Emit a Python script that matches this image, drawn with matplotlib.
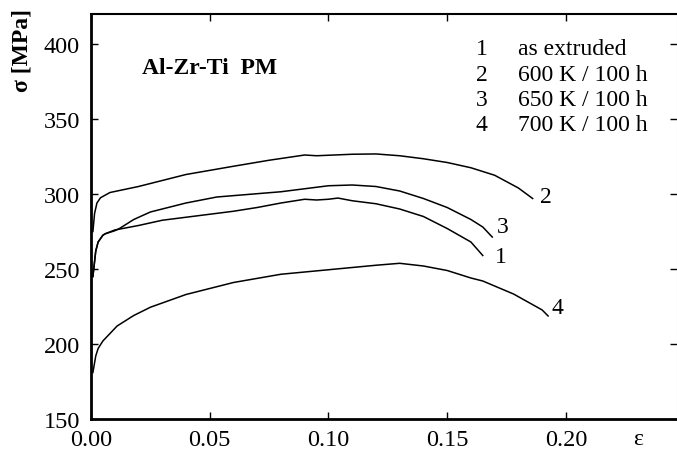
import matplotlib
matplotlib.use("Agg")
import matplotlib.pyplot as plt

# Curve 1: as extruded
eps1 = [0.0008, 0.002, 0.003, 0.005, 0.006, 0.01, 0.02, 0.03, 0.04, 0.05, 0.06, 0.07,
        0.08, 0.09, 0.095, 0.10, 0.104, 0.11, 0.12, 0.13, 0.14, 0.15, 0.16, 0.165]
sig1 = [245, 262, 268, 272.5, 273.5, 276, 279, 282.5, 284.5, 286.5, 288.5, 291,
        294, 296.5, 296, 296.5, 297.3, 295.5, 293.5, 290, 285, 277, 268, 259]

# Curve 2: 600 K / 100 h
eps2 = [0.0008, 0.0015, 0.0025, 0.004, 0.008, 0.02, 0.04, 0.06, 0.075, 0.09, 0.095,
        0.11, 0.12, 0.13, 0.14, 0.15, 0.16, 0.17, 0.18, 0.186]
sig2 = [275, 287, 294, 297.5, 301, 305, 313, 318.5, 322.5, 326, 325.5,
        326.5, 326.7, 325.5, 323.5, 321, 317.5, 312.5, 304, 297]

# Curve 3: 650 K / 100 h
eps3 = [0.0008, 0.002, 0.003, 0.005, 0.006, 0.01, 0.012, 0.018, 0.025, 0.04, 0.053,
        0.08, 0.10, 0.11, 0.12, 0.13, 0.14, 0.15, 0.16, 0.165, 0.169]
sig3 = [245, 262, 268, 272.5, 273.5, 275.5, 277, 283, 288, 294, 298,
        301.5, 305.5, 306, 305, 302, 297, 291, 283, 278, 271.3]

# Curve 4: 700 K / 100 h
eps4 = [0.0008, 0.002, 0.003, 0.005, 0.008, 0.011, 0.018, 0.025, 0.04, 0.06, 0.08, 0.10, 0.12,
        0.13, 0.14, 0.15, 0.16, 0.165, 0.178, 0.19, 0.1925]
sig4 = [181, 192, 197, 202, 207, 212, 219, 224.5, 233, 241, 246.5, 249.5, 252.5,
        253.8, 252, 249, 244, 242, 233.3, 222.7, 218.7]

curve_labels = ["1", "2", "3", "4"]
legend_numbers = ["1", "2", "3", "4"]
legend_texts = ["as extruded", "600 K / 100 h", "650 K / 100 h", "700 K / 100 h"]
xticks = [0.0, 0.05, 0.10, 0.15, 0.20]
xticklabels = ["0.00", "0.05", "0.10", "0.15", "0.20"]
yticks = [150, 200, 250, 300, 350, 400]

plt.rcParams['font.family'] = ['Liberation Serif', 'DejaVu Serif']
FS = 17

fig = plt.figure(figsize=(6.77, 4.56), dpi=100)
ax = fig.add_axes([91/677, 36/456, 586/677, 405/456])

for e, s in [(eps1, sig1), (eps2, sig2), (eps3, sig3), (eps4, sig4)]:
    ax.plot(e, s, color='black', lw=1.1)

ax.set_xlim(0, 0.2468)
ax.set_ylim(150, 420)
ax.set_xticks(xticks)
ax.set_xticklabels(xticklabels)
ax.set_yticks(yticks)
ax.tick_params(direction='in', length=5, width=1.0, labelsize=17.5,
               top=True, right=True, color='black')
ax.tick_params(axis='x', pad=7)
ax.tick_params(axis='y', pad=8)
for t in ax.yaxis.get_ticklines()[1::2]:
    t.set_color('#bbbbbb')

ax.spines['left'].set_linewidth(2.0)
ax.spines['bottom'].set_linewidth(2.0)
ax.spines['top'].set_linewidth(1.5)
ax.spines['right'].set_color('#dddddd')
ax.spines['right'].set_linewidth(0.8)

# curve end labels
label_pos = [(0.1725, 258), (0.1915, 298), (0.1735, 278.5), (0.1965, 224)]
for lab, (x, y) in zip(curve_labels, label_pos):
    ax.text(x, y, lab, fontsize=FS, ha='center', va='center')

# legend-like text block
for i, (n, t) in enumerate(zip(legend_numbers, legend_texts)):
    yv = 396.7 - i * 16.8
    ax.text(0.1645, yv, n, fontsize=FS, ha='center', va='center')
    ax.text(0.1798, yv, t, fontsize=FS, ha='left', va='center')

ax.text(0.0215, 384, "Al-Zr-Ti  PM", fontsize=FS, fontweight='bold', ha='left', va='center')

fig.text(22/677, 1 - 50/456, "σ [MPa]", rotation=90, fontsize=FS, fontweight='bold',
         ha='center', va='center')
fig.text(638/677, 1 - 440/456, "ε", fontsize=FS, ha='center', va='center')

fig.savefig("out.png", dpi=100)
